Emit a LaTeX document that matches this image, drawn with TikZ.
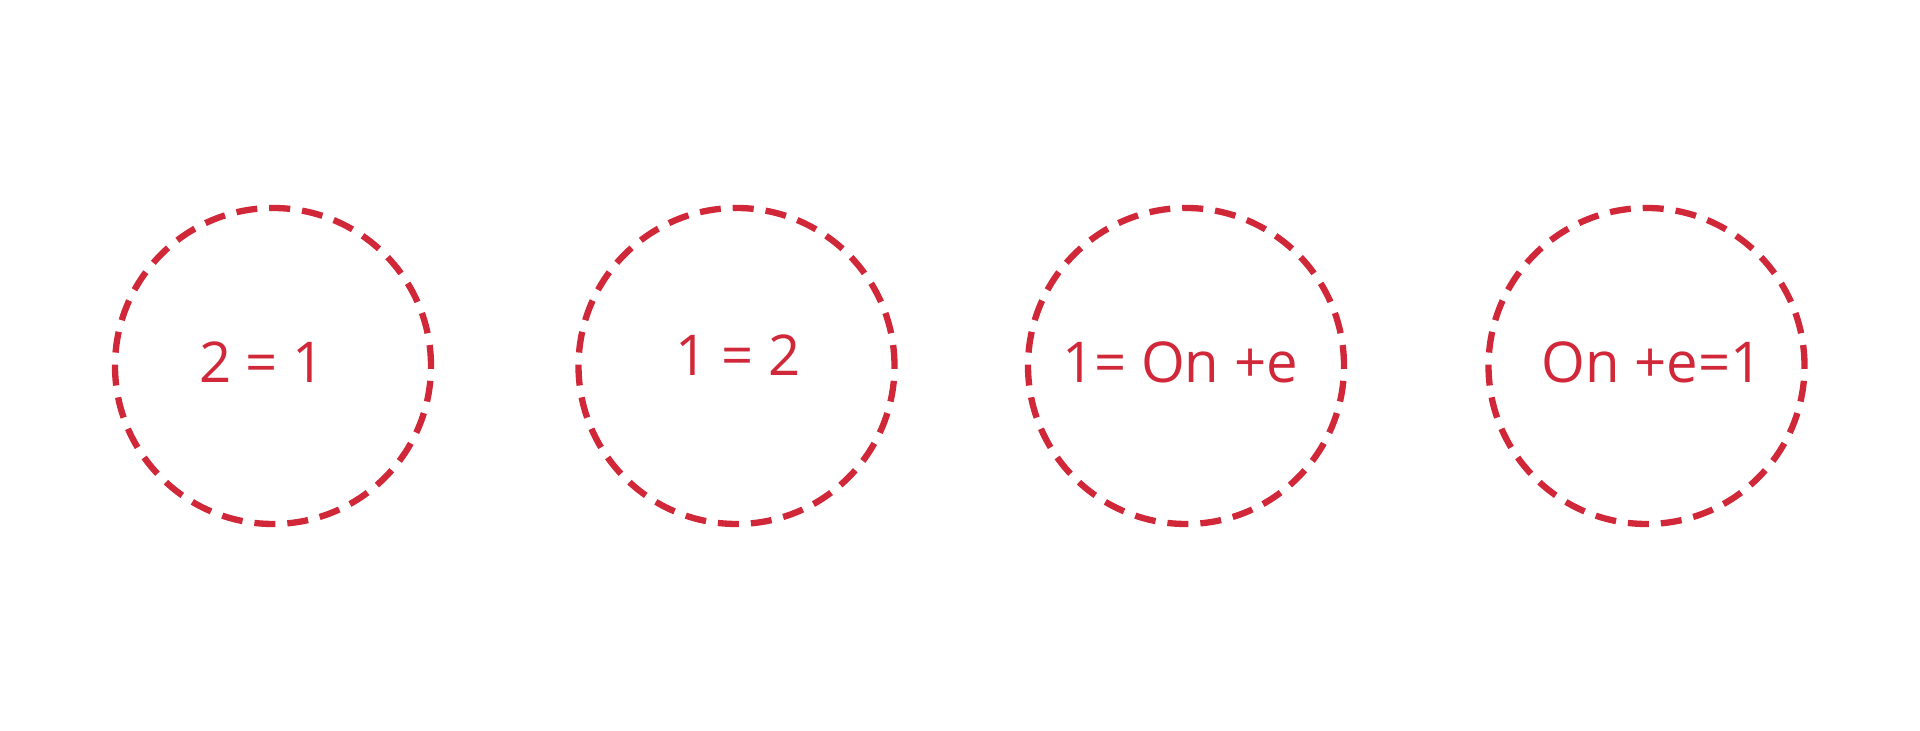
\documentclass[tikz,border=0pt]{standalone}
\usepackage{fontspec}
\setmainfont{Open Sans}
\usepackage{xcolor}
\definecolor{ringred}{RGB}{208,40,56}

\begin{document}
\begin{tikzpicture}
\useasboundingbox (0,0) rectangle (19.2,7.31);
\tikzset{
  ring/.style={draw=ringred, circle, line width=1.8pt, dash pattern=on 0.21cm off 0.12cm, minimum size=3.16cm, inner sep=0pt},
  eqtext/.style={text=ringred, font=\fontsize{16}{19}\selectfont, inner sep=0pt}
}
\node[ring] (c1) at (2.73, 3.65) {};
\node[ring] (c2) at (7.365, 3.65) {};
\node[ring] (c3) at (11.86, 3.65) {};
\node[ring] (c4) at (16.465, 3.65) {};

\node[eqtext] (t1) at (2.62, 3.69) {2 = 1};
\node[eqtext] (t2) at (7.38, 3.76) {1 = 2};
\node[eqtext] (t3) at (11.80, 3.69) {1= On +e};
\node[eqtext] (t4) at (16.52, 3.69) {On +e=1};
\end{tikzpicture}
\end{document}
